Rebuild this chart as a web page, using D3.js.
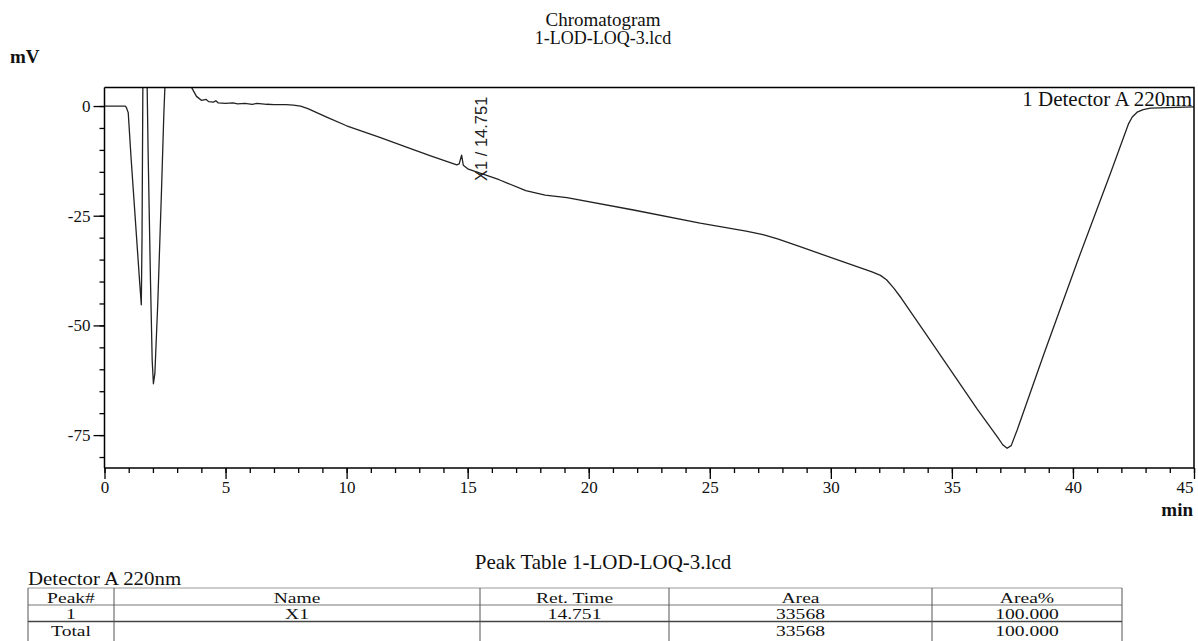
<!DOCTYPE html>
<html>
<head>
<meta charset="utf-8">
<script src="https://cdn.jsdelivr.net/npm/d3@7"></script>
<style>
  body { margin: 0; background: #fff; }
  svg { display: block; font-family: "Liberation Serif", "DejaVu Serif", serif; }
</style>
</head>
<body>
<div id="chart"></div>
<script>
// chromatogram trace (min, mV)
const times = [0, 0.5, 0.85, 0.9, 0.98, 1.1, 1.3, 1.45, 1.52, 1.55, 1.58, 1.6, 1.7, 1.76, 1.8, 1.9, 1.97, 2.02, 2.08, 2.2, 2.35, 2.45, 2.5, 2.6,
  3.5, 3.6, 3.8, 4.0, 4.2, 4.3, 4.5, 4.6, 4.7, 5.0, 5.3, 5.5, 5.8, 6.1, 6.3, 6.7, 7.0, 7.5, 7.8, 8.1, 8.4, 9.2, 10, 11.4, 12.5, 13.5,
  14.55, 14.65, 14.75, 14.82, 15, 16.3, 17.4, 18.2, 19.1, 21.85, 24.6, 26.5, 27.2, 27.8, 28.7, 30.4, 31.7, 32.05, 32.3, 32.6, 32.9, 33.98, 36.04, 36.9, 37.1, 37.28, 37.45,
  37.7, 38.8, 40.2, 41.55, 42.1, 42.3, 42.45, 42.65, 42.9, 43.2, 45];
const mv = [0, 0, 0, -0.3, -1.5, -12, -28, -40, -45.3, -30, 0, 20, 20, 5, -10, -40, -58, -63.3, -61, -45, -20, -2, 5, 20,
  10, 4.2, 2.2, 1.3, 1.5, 1.0, 0.9, 1.2, 0.7, 0.6, 0.7, 0.5, 0.6, 0.4, 0.6, 0.4, 0.3, 0.3, 0.2, 0, -0.6, -2.6, -4.5, -7.2, -9.4, -11.4,
  -13.4, -13.2, -11.2, -13.5, -14.3, -16.8, -19.3, -20.3, -20.9, -23.7, -26.7, -28.5, -29.3, -30.3, -32.0, -35.3, -37.8, -38.6, -39.6, -41.5, -43.7, -52.4, -69.0, -75.6, -77.2, -78.0, -77.4,
  -73.8, -56.5, -35.2, -15.3, -7.0, -4.0, -2.5, -1.4, -0.8, -0.5, -0.2];

const peakTimes = [14.751];
const peakNames = ["X1"];

const xTicks = [0, 5, 10, 15, 20, 25, 30, 35, 40, 45];
const yTicks = [0, -25, -50, -75];

const tableHeader = ["Peak#", "Name", "Ret. Time", "Area", "Area%"];
const tableRows = [
  ["1", "X1", "14.751", "33568", "100.000"],
  ["Total", "", "", "33568", "100.000"]
];

const W = 1198, H = 641;
const plot = { left: 104.5, right: 1194, top: 87.6, bottom: 468 };

const svg = d3.select("#chart").append("svg").attr("width", W).attr("height", H);

const x = d3.scaleLinear().domain([0, 45]).range([plot.left, plot.right]);
const y = d3.scaleLinear().domain([-82.5, 4.2]).range([plot.bottom, plot.top]);

function label(px, py, str, size, anchor, bold) {
  return svg.append("text").attr("x", px).attr("y", py)
    .attr("text-anchor", anchor || "start")
    .style("font-size", size + "px")
    .style("font-weight", bold ? "bold" : "normal")
    .attr("fill", "#111")
    .text(str);
}

// titles
label(603, 26, "Chromatogram", 19, "middle");
label(603, 44, "1-LOD-LOQ-3.lcd", 18, "middle");
label(10, 63, "mV", 19, "start", true);
label(1193, 516, "min", 19, "end", true);

// clip for the trace
svg.append("clipPath").attr("id", "clip").append("rect")
  .attr("x", plot.left).attr("y", plot.top)
  .attr("width", plot.right - plot.left).attr("height", plot.bottom - plot.top);

const pts = times.map((t, i) => [t, mv[i]]);
const line = d3.line().x(d => x(d[0])).y(d => y(d[1]));

svg.append("path").datum(pts)
  .attr("clip-path", "url(#clip)")
  .attr("fill", "none").attr("stroke", "#222").attr("stroke-width", 1.3)
  .attr("stroke-linejoin", "round")
  .attr("d", line);

// frame top + right
svg.append("path")
  .attr("d", `M${plot.left},${plot.top}H${plot.right}V${plot.bottom}`)
  .attr("fill", "none").attr("stroke", "#000").attr("stroke-width", 1.5);

const styleTicks = g => g.selectAll("text")
  .style("font-size", "17px").style("font-family", "Liberation Serif").attr("fill", "#111");

// y axis
const yAxis = svg.append("g").attr("transform", `translate(${plot.left},0)`);
yAxis.call(d3.axisLeft(y).tickValues(d3.range(-80, 5, 5)).tickSize(5).tickFormat(""))
  .call(g => g.select(".domain").remove());
yAxis.append("g")
  .call(d3.axisLeft(y).tickValues(yTicks).tickSize(11).tickPadding(3).tickFormat(d => String(d)))
  .call(g => g.select(".domain").remove())
  .call(styleTicks);
yAxis.selectAll("line").attr("stroke", "#000").attr("stroke-width", 1.3);
svg.append("line").attr("x1", plot.left).attr("x2", plot.left)
  .attr("y1", plot.top).attr("y2", plot.bottom).attr("stroke", "#000").attr("stroke-width", 1.5);

// x axis
const xAxis = svg.append("g").attr("transform", `translate(0,${plot.bottom})`);
xAxis.call(d3.axisBottom(x).tickValues(d3.range(0, 46, 1)).tickSize(5).tickFormat(""))
  .call(g => g.select(".domain").remove());
xAxis.append("g")
  .call(d3.axisBottom(x).tickValues(xTicks).tickSize(11).tickPadding(2).tickFormat(d => String(d)))
  .call(g => g.select(".domain").remove())
  .call(styleTicks)
  .call(g => g.selectAll(".tick").filter(d => d === 45).select("text").attr("text-anchor", "end").attr("x", -1));
xAxis.selectAll("line").attr("stroke", "#000").attr("stroke-width", 1.3);
svg.append("line").attr("x1", plot.left).attr("x2", plot.right)
  .attr("y1", plot.bottom).attr("y2", plot.bottom).attr("stroke", "#000").attr("stroke-width", 1.5);

// detector label
label(1192, 106, "1 Detector A 220nm", 21, "end");

// peak labels
peakTimes.forEach((t, i) => {
  svg.append("text")
    .attr("transform", `translate(${x(t) + 25},181) rotate(-90)`)
    .style("font-family", "Liberation Sans, Arial, sans-serif")
    .style("font-size", "16.5px").attr("fill", "#222")
    .text(`${peakNames[i]} / ${t.toFixed(3)}`);
});

// peak table
label(603, 569, "Peak Table 1-LOD-LOQ-3.lcd", 21, "middle");
svg.append("text")
  .attr("transform", "translate(28,585) scale(1.1,1)")
  .style("font-size", "19px").attr("fill", "#111")
  .text("Detector A 220nm");

const colEdges = [28, 114, 480, 669, 932, 1122];
const rowEdges = [588, 605, 621.5, 641];
const baselines = [603, 619.3, 635.6];
const tbl = svg.append("g");
tbl.append("line").attr("x1", colEdges[0]).attr("x2", colEdges[5]).attr("y1", rowEdges[0]).attr("y2", rowEdges[0])
  .attr("stroke", "#999").attr("stroke-width", 1.2);
tbl.append("line").attr("x1", colEdges[0]).attr("x2", colEdges[5]).attr("y1", rowEdges[1]).attr("y2", rowEdges[1])
  .attr("stroke", "#777").attr("stroke-width", 1);
tbl.append("line").attr("x1", colEdges[0]).attr("x2", colEdges[5]).attr("y1", rowEdges[2]).attr("y2", rowEdges[2])
  .attr("stroke", "#444").attr("stroke-width", 1.6);
colEdges.forEach(cx => {
  tbl.append("line").attr("x1", cx).attr("x2", cx).attr("y1", rowEdges[0]).attr("y2", rowEdges[3])
    .attr("stroke", "#555").attr("stroke-width", 1);
});
const allRows = [tableHeader].concat(tableRows);
allRows.forEach((row, r) => {
  row.forEach((cell, c) => {
    if (!cell) return;
    const cx = (colEdges[c] + colEdges[c + 1]) / 2;
    tbl.append("text")
      .attr("transform", `translate(${cx},${baselines[r]}) scale(1.35,1)`)
      .attr("text-anchor", "middle")
      .style("font-size", "14.5px")
      .attr("fill", "#111")
      .text(cell);
  });
});
</script>
</body>
</html>
